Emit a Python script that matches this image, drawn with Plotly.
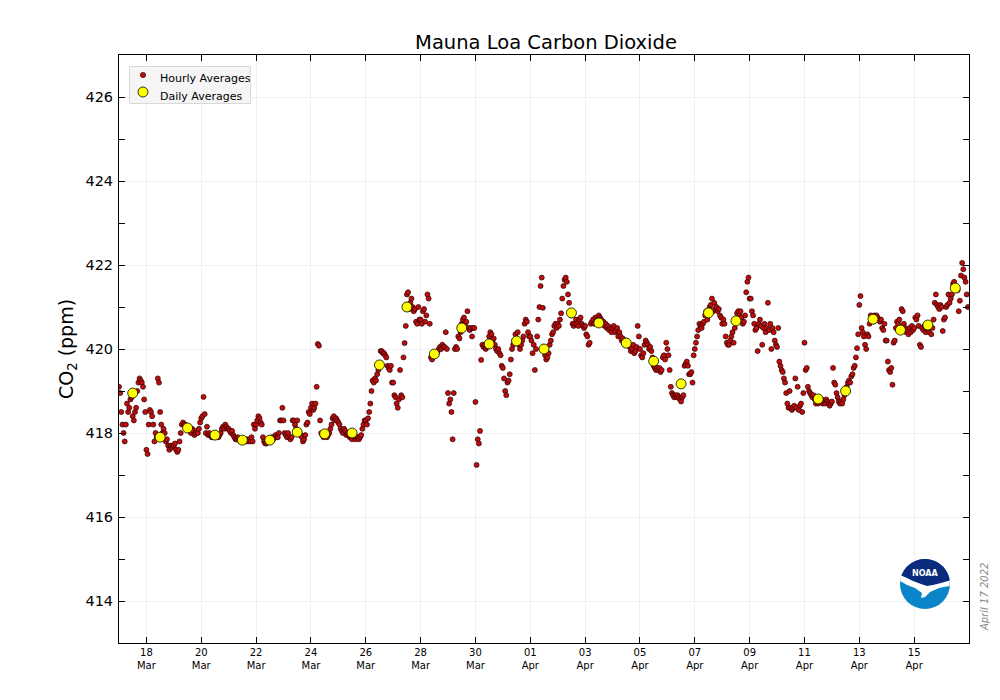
import numpy as np
import pandas as pd
import plotly.graph_objects as go

# ---------------- data ----------------
mar17 = [419.1,418.95,418.5,418.2,418.0,417.8,418.2,418.7,418.5,418.6,418.8,418.85,418.4,418.3,418.5,418.6,419.0,419.2,419.3,419.25,419.2,419.1,418.8,418.5]
mar18 = [417.6,417.5,418.2,418.55,418.5,418.4,418.2,417.8,418.0,417.9,419.3,419.2,418.5,418.2,418.0,418.1,418.0,417.8,417.85,417.7,417.6,417.7,417.65,417.7]
mar19 = [417.7,417.75,417.6,417.55,417.6,417.8,418.0,418.2,418.25,418.2,418.2,418.15,418.1,418.15,418.05,418.0,418.1,418.05,417.95,418.0,418.05,418.0,418.1,418.25]
mar20 = [418.35,418.4,418.86,418.45,418.0,418.15,417.95,418.0,417.95,417.9,417.9,417.95,418.0,417.9,417.95,417.9,417.95,418.0,418.1,418.15,418.1,418.2,418.15,418.1]
mar21 = [418.1,418.05,418.0,418.05,417.95,417.9,417.85,417.85,417.9,417.85,417.8,417.85,417.8,417.85,417.8,417.8,417.85,417.8,417.85,417.8,417.9,417.8,418.2,418.1]
mar22 = [418.2,418.3,418.4,418.35,418.25,418.2,417.9,417.8,417.75,417.75,417.8,417.85,417.8,417.85,417.9,417.85,417.9,417.95,417.9,417.9,418.0,418.3,418.3,418.6]
mar23 = [418.3,418.0,417.95,417.9,418.0,417.9,417.85,417.9,418.3,418.3,418.2,418.1,418.3,418.05,418.0,417.95,417.9,417.8,417.85,417.95,418.2,418.25,418.5,418.45]
mar24 = [418.6,418.7,418.55,418.6,418.7,419.1,420.12,420.08,418.3,418.0,417.95,417.9,418.0,417.95,417.9,417.95,418.0,418.1,418.2,418.35,418.4,418.3,418.35,418.3]
mar25 = [418.25,418.2,418.1,418.05,418.0,418.1,418.05,417.95,418.0,417.95,417.9,417.9,417.85,417.95,417.9,417.85,417.9,417.9,417.85,417.9,417.95,418.1,418.2,418.3]
mar26 = [418.3,418.2,418.35,418.5,418.7,419.0,419.25,419.2,419.3,419.25,419.4,419.5,419.6,419.95,419.95,419.9,419.9,419.85,419.8,419.6,419.55,419.5,419.6,419.2]
mar27 = [419.2,418.9,418.85,418.7,418.6,418.8,419.5,418.9,418.85,419.8,420.14,420.55,421.3,421.35,420.95,421.1,421.2,421.0,420.9,420.95,420.65,420.6,421.0,420.7]
mar28 = [420.7,420.6,420.9,420.95,420.65,420.8,421.3,421.2,420.6,419.8,419.75,419.85,419.9,419.85,419.9,419.95,420.0,420.05,420.0,420.1,420.05,420.05,420.4,420.0]
mar29 = [418.95,418.7,418.8,418.5,417.85,418.95,420.0,420.05,420.0,420.3,420.25,420.4,420.6,420.7,420.75,420.6,420.65,420.9,420.5,420.45,420.5,420.3,420.5,420.5]
mar30 = [418.74,417.24,417.85,417.75,418.05,419.74,420.1,420.05,420.1,420.0,420.05,420.1,420.3,420.4,420.35,420.2,420.25,420.1,420.0,419.95,420.0,419.9,419.85,419.6]
mar31 = [419.55,419.3,419.0,418.9,419.2,419.25,419.4,419.75,420.0,420.1,420.2,420.35,420.25,420.4,420.1,420.0,420.1,420.2,420.3,420.6,420.7,420.65,420.4,420.3]
apr01 = [420.3,420.2,419.9,420.1,419.5,420.0,420.3,420.7,421.0,421.5,421.7,420.98,420.05,419.85,419.75,419.8,419.9,420.1,420.2,420.35,420.4,420.55,420.6,420.5]
apr02 = [420.6,420.55,420.7,420.85,421.2,421.5,421.65,421.7,421.6,421.3,421.1,420.9,420.8,420.6,420.55,420.6,420.7,420.6,420.55,420.7,420.75,420.6,420.55,420.5]
apr03 = [420.55,420.35,420.3,420.1,420.15,420.6,420.65,420.7,420.6,420.75,420.65,420.7,420.8,420.75,420.7,420.6,420.65,420.55,420.6,420.5,420.55,420.45,420.5,420.4]
apr04 = [420.5,420.55,420.4,420.45,420.5,420.3,420.4,420.3,420.2,420.25,420.15,420.1,420.2,420.15,420.1,420.05,419.95,420.0,420.1,419.9,419.95,420.05,420.55,420.3]
apr05 = [420.0,419.85,419.8,419.9,420.1,420.2,420.15,420.1,420.0,420.05,419.95,419.8,419.6,419.55,419.5,419.55,419.5,419.55,419.45,419.5,419.8,419.85,419.75,420.15]
apr06 = [420.0,419.85,419.5,419.1,418.95,418.9,418.85,418.9,418.85,418.9,418.85,418.8,418.75,418.85,418.9,419.6,419.65,419.7,419.6,419.4,419.4,419.45,419.2,419.85]
apr07 = [420.0,420.15,420.3,420.45,420.6,420.55,420.5,420.6,420.65,420.8,420.9,420.7,420.85,421.0,421.05,421.2,420.9,421.1,420.95,421.0,420.9,420.95,420.8,420.75]
apr08 = [420.6,420.7,420.6,420.3,420.15,420.1,420.1,420.2,420.3,420.4,420.15,420.5,420.7,420.85,420.9,420.8,420.9,420.75,420.6,420.65,420.8,421.35,421.6,421.7]
apr09 = [421.2,421.2,420.9,420.8,420.6,420.45,420.5,419.95,420.6,420.7,420.55,420.1,420.5,420.6,420.4,420.5,421.1,420.45,420.6,420.0,420.5,420.4,420.2,420.1]
apr10 = [420.05,420.5,419.7,419.6,419.5,419.45,419.3,419.2,418.95,418.7,418.6,419.0,418.6,418.55,418.6,418.65,419.3,418.6,419.1,418.55,418.65,418.7,418.5,418.95]
apr11 = [420.15,419.5,419.55,419.1,419.0,418.95,418.9,418.85,418.9,418.8,418.7,418.75,418.7,418.8,418.75,418.8,418.7,418.75,418.7,418.8,418.75,418.7,418.65,418.7]
apr12 = [418.75,419.55,419.2,419.15,418.95,418.85,418.75,418.7,418.75,418.7,418.8,418.9,419.0,419.1,419.2,419.25,419.2,419.35,419.4,419.55,419.6,419.8,420.02,420.35]
apr13 = [421.05,421.26,420.5,420.4,420.3,420.1,420.0,420.35,420.3,420.6,420.8,420.75,420.7,420.8,420.75,420.8,420.75,420.7,420.65,420.7,420.5,420.45,420.6,420.2]
apr14 = [420.2,419.7,419.5,419.45,419.55,419.15,420.15,420.2,420.5,420.65,420.6,420.7,420.5,420.95,420.9,420.6,420.5,420.4,420.45,420.35,420.5,420.4,420.55,420.45]
apr15 = [420.5,420.75,420.7,420.8,420.55,420.1,420.05,420.5,420.45,420.55,420.4,420.5,420.45,420.4,420.55,420.35,420.5,420.7,421.1,421.3,421.05,421.0,420.95,421.05]
apr16 = [421.0,420.43,420.7,420.75,421.0,421.05,421.3,421.1,421.2,421.3,421.55,421.6,421.5,421.45,421.4,420.9,421.15,421.75,422.05,421.9,421.7,421.6,421.3,421.0]

hourly_start = "2022-03-17 00:00"

daily_dates = ["2022-03-17 12:00", "2022-03-18 12:00", "2022-03-19 12:00", "2022-03-20 12:00",
               "2022-03-21 12:00", "2022-03-22 12:00", "2022-03-23 12:00", "2022-03-24 12:00",
               "2022-03-25 12:00", "2022-03-26 12:00", "2022-03-27 12:00", "2022-03-28 12:00",
               "2022-03-29 12:00", "2022-03-30 12:00", "2022-03-31 12:00", "2022-04-01 12:00",
               "2022-04-02 12:00", "2022-04-03 12:00", "2022-04-04 12:00", "2022-04-05 12:00",
               "2022-04-06 12:00", "2022-04-07 12:00", "2022-04-08 12:00", "2022-04-11 12:00",
               "2022-04-12 12:00", "2022-04-13 12:00", "2022-04-14 12:00", "2022-04-15 12:00",
               "2022-04-16 12:00"]
daily_values = [418.95, 417.9, 418.12, 417.95, 417.83, 417.83, 418.02, 417.98, 418.0, 419.62,
                421.0, 419.88, 420.5, 420.12, 420.19, 420.0, 420.86, 420.62, 420.14, 419.71,
                419.17, 420.86, 420.67, 418.81, 419.0, 420.71, 420.45, 420.57, 421.45]

tick_dates = ["2022-03-18", "2022-03-20", "2022-03-22", "2022-03-24", "2022-03-26", "2022-03-28",
              "2022-03-30", "2022-04-01", "2022-04-03", "2022-04-05", "2022-04-07", "2022-04-09",
              "2022-04-11", "2022-04-13", "2022-04-15"]
tick_labels = ["18<br>Mar", "20<br>Mar", "22<br>Mar", "24<br>Mar", "26<br>Mar", "28<br>Mar",
               "30<br>Mar", "01<br>Apr", "03<br>Apr", "05<br>Apr", "07<br>Apr", "09<br>Apr",
               "11<br>Apr", "13<br>Apr", "15<br>Apr"]

series_names = ["Hourly Averages", "Daily Averages"]

# ---------------- build ----------------
days = [mar17, mar18, mar19, mar20, mar21, mar22, mar23, mar24, mar25, mar26, mar27, mar28,
        mar29, mar30, mar31, apr01, apr02, apr03, apr04, apr05, apr06, apr07, apr08, apr09,
        apr10, apr11, apr12, apr13, apr14, apr15, apr16]
hourly_values = [v for d in days for v in d]
hourly_times = pd.date_range(hourly_start, periods=len(hourly_values), freq="h")

FONT = "DejaVu Sans"
RED, RED_EDGE = "#c00d0d", "#2a0000"
YEL = "#ffff00"

fig = go.Figure()
fig.add_trace(go.Scatter(
    x=hourly_times, y=hourly_values, mode="markers", name=series_names[0],
    marker=dict(size=5, color=RED, line=dict(color=RED_EDGE, width=0.7)),
))
fig.add_trace(go.Scatter(
    x=pd.to_datetime(daily_dates), y=daily_values, mode="markers", name=series_names[1],
    marker=dict(size=10, color=YEL, line=dict(color="#000000", width=0.8)),
))

# pixel -> paper helpers (plot area spans x 119..969, y 55..643)
def px(x):
    return (x - 119) / 850

def py(y):
    return (643 - y) / 588

def path(pts):
    return "M " + " L ".join(f"{x:.2f},{y:.2f}" for x, y in pts) + " Z"

# ---------------- legend (drawn like the matplotlib one) ----------------
shapes = [
    dict(type="rect", xref="paper", yref="paper", x0=px(129.5), x1=px(250.5), y0=py(103.5), y1=py(66.5),
         fillcolor="#f5f5f5", line=dict(color="#d8d8d8", width=1), layer="above"),
    dict(type="circle", xref="paper", yref="paper", xsizemode="pixel", ysizemode="pixel",
         xanchor=px(143), yanchor=py(75), x0=-2.6, x1=2.6, y0=-2.6, y1=2.6,
         fillcolor=RED, line=dict(color=RED_EDGE, width=0.7), layer="above"),
    dict(type="circle", xref="paper", yref="paper", xsizemode="pixel", ysizemode="pixel",
         xanchor=px(143), yanchor=py(92), x0=-5, x1=5, y0=-5, y1=5,
         fillcolor=YEL, line=dict(color="#000000", width=0.8), layer="above"),
]

# ---------------- NOAA logo (decoration) ----------------
R = 25
cx, cy = 925, 584
common = dict(xref="paper", yref="paper", xsizemode="pixel", ysizemode="pixel",
              xanchor=px(cx), yanchor=py(cy), layer="above")
t = np.radians(np.linspace(161, 8, 40))
cap = [(R * np.cos(a), R * np.sin(a)) for a in t] + [(16, 1), (8, -1), (2, -2), (-4, 0), (-12, 3), (-20, 7)]
gull = [(-24.8, 3), (-24, 9), (-12, 4), (0, -1), (12, 1), (24.8, 5), (24.6, -2), (14, -4),
        (5, -8), (0, -13), (-4, -14), (-3, -9), (-10, -4), (-18, -1)]
shapes += [
    dict(type="circle", x0=-R, x1=R, y0=-R, y1=R, fillcolor="#0a85ca", line=dict(width=0), **common),
    dict(type="path", path=path(gull), fillcolor="#ffffff", line=dict(width=0), **common),
    dict(type="path", path=path(cap), fillcolor="#0b2c7d", line=dict(width=0), **common),
]

annotations = [
    dict(text=series_names[0], xref="paper", yref="paper", x=px(158), y=py(78),
         xanchor="left", yanchor="middle", showarrow=False,
         font=dict(size=11, family=FONT, color="black")),
    dict(text=series_names[1], xref="paper", yref="paper", x=px(158), y=py(96),
         xanchor="left", yanchor="middle", showarrow=False,
         font=dict(size=11, family=FONT, color="black")),
    dict(text="NOAA", xref="paper", yref="paper", x=px(cx), y=py(573),
         xanchor="center", yanchor="middle", showarrow=False,
         font=dict(size=8, family=FONT, color="white", weight="bold")),
    dict(text="<i>April 17 2022</i>", xref="paper", yref="paper",
         x=px(984), y=py(597), xanchor="center", yanchor="middle", textangle=-90, showarrow=False,
         font=dict(size=10, family=FONT, color="#888888")),
]

fig.update_layout(
    width=1000, height=700,
    margin=dict(l=119, r=31, t=55, b=57),
    paper_bgcolor="white", plot_bgcolor="white",
    font=dict(family=FONT, color="black"),
    title=dict(text="Mauna Loa Carbon Dioxide", x=546 / 1000, xanchor="center",
               y=1 - 42 / 700, yanchor="middle", yref="container",
               font=dict(size=19.5, family=FONT, color="black")),
    showlegend=False,
    shapes=shapes,
    annotations=annotations,
    hovermode=False,
)

fig.update_xaxes(
    type="date", range=["2022-03-17", "2022-04-17"],
    tickvals=pd.to_datetime(tick_dates), ticktext=tick_labels,
    ticks="inside", ticklen=6, tickwidth=1, tickcolor="black",
    showline=True, linecolor="black", linewidth=1, mirror="allticks",
    showgrid=True, gridcolor="#f0f0f0", gridwidth=1, zeroline=False,
    tickfont=dict(size=10, family=FONT, color="black"),
)
fig.update_yaxes(
    range=[413, 427], tick0=414, dtick=2,
    ticks="inside", ticklen=6, tickwidth=1, tickcolor="black",
    minor=dict(dtick=1, tick0=413, ticks="inside", ticklen=6, tickcolor="black", showgrid=False),
    showline=True, linecolor="black", linewidth=1, mirror="allticks",
    showgrid=True, gridcolor="#f0f0f0", gridwidth=1, zeroline=False,
    tickfont=dict(size=14.5, family=FONT, color="black"),
    ticklabelstandoff=2,
    title=dict(text="CO<sub>2</sub> (ppm)", font=dict(size=19, family=FONT, color="black"), standoff=6),
)

fig.write_html("out.html")
